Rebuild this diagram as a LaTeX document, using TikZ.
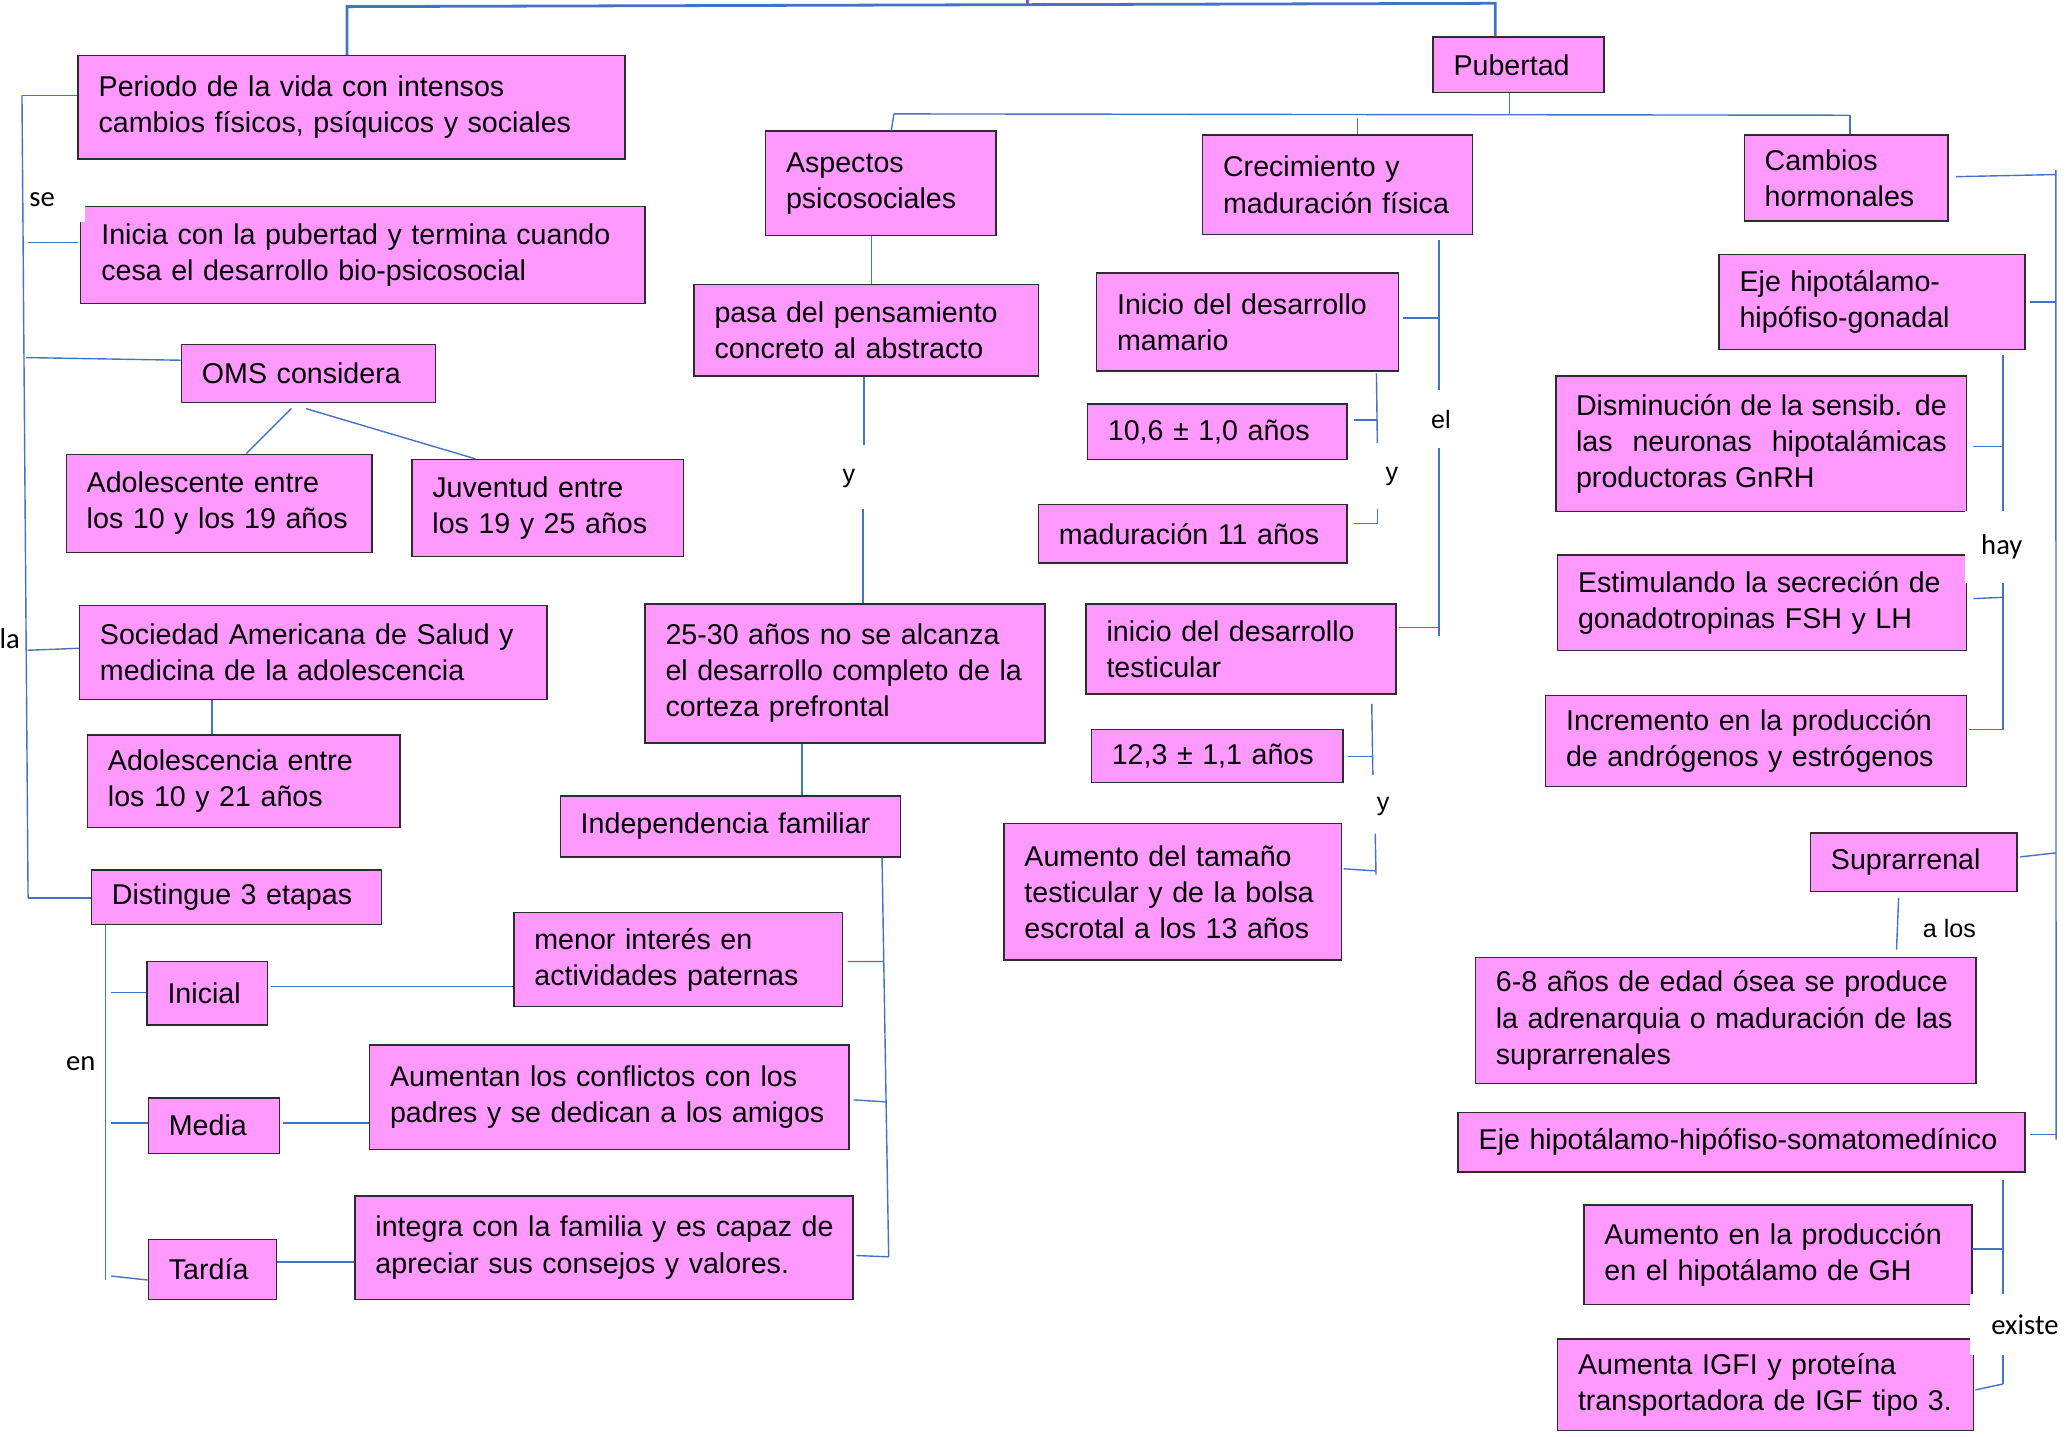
\documentclass[tikz,border=0pt]{standalone}
\usepackage{fontspec}
\setmainfont{Liberation Sans}
\newfontfamily\calfont{Carlito}
\definecolor{boxfill}{RGB}{255,153,255}
\definecolor{boxline}{RGB}{45,45,45}
\definecolor{linkblue}{RGB}{68,114,196}
\tikzset{
 box/.style={draw=boxline, fill=boxfill, line width=0.6pt, inner xsep=0.31cm, inner ysep=0pt, align=left, font=\fontsize{12.3}{15.5}\selectfont},
 conn/.style={draw=linkblue, line width=0.6pt},
 thickconn/.style={draw=linkblue, line width=1.2pt},
 lblA/.style={font=\fontsize{10.8}{13}\selectfont, inner sep=1pt},
 lblC/.style={font=\calfont\fontsize{12.3}{14}\selectfont, inner sep=1pt},
}
\newcommand\mkbox[6]{%
 \pgfmathsetmacro\bxw{(#4-#2)*0.02}%
 \pgfmathsetmacro\bxh{(#5-#3)*0.02}%
 \pgfmathsetmacro\bxt{(#4-#2-31)*0.02}%
 \node[box, minimum width=\bxw cm, minimum height=\bxh cm, text width=\bxt cm] (#1) at ({(#2+#4)/2},{(#3+#5)/2}) {#6};}
\begin{document}
\begin{tikzpicture}[x=0.02cm,y=-0.02cm]
\useasboundingbox (0,0) rectangle (1563,1085);
% ---------- boxes: left column
\mkbox{periodo}{59}{42}{472}{120}{\mbox{Periodo de la vida con intensos}\\\mbox{cambios físicos, psíquicos y sociales}}
\mkbox{inicia}{61}{156}{487}{229}{\mbox{Inicia con la pubertad y termina cuando}\\\mbox{cesa el desarrollo bio-psicosocial}}
\mkbox{oms}{137}{260}{329}{304}{\mbox{OMS considera}}
\mkbox{adol}{50}{343}{281}{417}{\mbox{Adolescente entre}\\\mbox{los 10 y los 19 años}}
\mkbox{juv}{311}{347}{516}{420}{\mbox{Juventud entre}\\\mbox{los 19 y 25 años}}
\mkbox{soc}{60}{457}{413}{528}{\mbox{Sociedad Americana de Salud y}\\\mbox{medicina de la adolescencia}}
\mkbox{adolc}{66}{555}{302}{625}{\mbox{Adolescencia entre}\\\mbox{los 10 y 21 años}}
\mkbox{dist}{69}{657}{288}{698}{\mbox{Distingue 3 etapas}}
\mkbox{inicial}{111}{726}{202}{774}{\mbox{Inicial}}
\mkbox{media}{112}{829}{211}{871}{\mbox{Media}}
\mkbox{tardia}{112}{936}{209}{981}{\mbox{Tardía}}
\mkbox{menor}{388}{689}{636}{760}{\mbox{menor interés en}\\\mbox{actividades paternas}}
\mkbox{aument}{279}{789}{641}{868}{\mbox{Aumentan los conflictos con los}\\\mbox{padres y se dedican a los amigos}}
\mkbox{integra}{268}{903}{644}{981}{\mbox{integra con la familia y es capaz de}\\\mbox{apreciar sus consejos y valores.}}
% ---------- middle column
\mkbox{aspectos}{578}{99}{752}{178}{\mbox{Aspectos}\\\mbox{psicosociales}}
\mkbox{pasa}{524}{215}{784}{284}{\mbox{pasa del pensamiento}\\\mbox{concreto al abstracto}}
\mkbox{corteza}{487}{456}{789}{561}{\mbox{25-30 años no se alcanza}\\\mbox{el desarrollo completo de la}\\\mbox{corteza prefrontal}}
\mkbox{indep}{423}{601}{680}{647}{\mbox{Independencia familiar}}
\mkbox{pubertad}{1082}{28}{1211}{70}{\mbox{Pubertad}}
\mkbox{crec}{908}{102}{1112}{177}{\mbox{Crecimiento y}\\\mbox{maduración física}}
\mkbox{mamario}{828}{206}{1056}{280}{\mbox{Inicio del desarrollo}\\\mbox{mamario}}
\mkbox{diez}{821}{305}{1017}{347}{\mbox{10,6 ± 1,0 años}}
\mkbox{madur}{784}{381}{1017}{425}{\mbox{maduración 11 años}}
\mkbox{testic}{820}{456}{1054}{524}{\mbox{inicio del desarrollo}\\\mbox{testicular}}
\mkbox{doce}{824}{551}{1014}{591}{\mbox{12,3 ± 1,1 años}}
\mkbox{tamano}{758}{622}{1013}{725}{\mbox{Aumento del tamaño}\\\mbox{testicular y de la bolsa}\\\mbox{escrotal a los 13 años}}
% ---------- right column
\mkbox{cambios}{1317}{102}{1471}{167}{\mbox{Cambios}\\\mbox{hormonales}}
\mkbox{gonadal}{1298}{192}{1529}{264}{\mbox{Eje hipotálamo-}\\\mbox{hipófiso-gonadal}}
\node[box, align=justify, inner xsep=0.3cm, minimum width=6.2cm, minimum height=2.04cm, text width=5.6cm] (dismin) at (1330,335) {Disminución de la sensib. de\linebreak las neuronas hipotalámicas\linebreak productoras GnRH};
\mkbox{estim}{1176}{419}{1485}{491}{\mbox{Estimulando la secreción de}\\\mbox{gonadotropinas FSH y LH}}
\mkbox{increm}{1167}{525}{1485}{594}{\mbox{Incremento en la producción}\\\mbox{de andrógenos y estrógenos}}
\mkbox{supra}{1367}{629}{1523}{673}{\mbox{Suprarrenal}}
\mkbox{seis}{1114}{723}{1492}{818}{\mbox{6-8 años de edad ósea se produce}\\\mbox{la adrenarquia o maduración de las}\\\mbox{suprarrenales}}
\mkbox{somato}{1101}{840}{1529}{885}{\mbox{Eje hipotálamo-hipófiso-somatomedínico}}
\mkbox{gh}{1196}{910}{1489}{985}{\mbox{Aumento en la producción}\\\mbox{en el hipotálamo de GH}}
\mkbox{igfi}{1176}{1011}{1490}{1080}{\mbox{Aumenta IGFI y proteína}\\\mbox{transportadora de IGF tipo 3.}}
% label drawn under the lines
\node[lblC, fill=white, minimum width=1.3cm, minimum height=0.68cm] (lse) at (31.8,150.5) {se};
% ---------- connectors
% top
\coordinate (tl) at (262,5);
\coordinate (tr) at (1129,2.5);
\coordinate (tt) at (776,0);
\draw[thickconn] (tl |- periodo.north) -- (tl) -- (tr) -- (tr |- pubertad.north);
\draw[thickconn] (tt) -- (776,4.5);
% pubertad bus
\coordinate (pb) at (1140,86);
\coordinate (bl) at (675,86);
\coordinate (br) at (1397,87);
\coordinate (asp) at (673,0);
\coordinate (ct) at (1025,89);
\draw[conn] (pb |- pubertad.south) -- (pb);
\draw[conn] (bl) -- (br);
\draw[conn] (bl) -- (asp |- aspectos.north);
\draw[conn] (br) -- (br |- cambios.north);
\draw[conn] (ct) -- (ct |- crec.north);
% aspectos column
\coordinate (ap) at (658,0);
\draw[conn] (ap |- aspectos.south) -- (ap |- pasa.north);
\coordinate (py) at (652.5,336);
\coordinate (py2) at (651.5,384);
\draw[conn] (py |- pasa.south) -- (py);
\draw[conn] (py2) -- (py2 |- corteza.north);
\node[lblA] (ly1) at (641,361) {y};
\coordinate (ci) at (605.5,0);
\draw[conn] (ci |- corteza.south) -- (ci |- indep.north);
\coordinate (is) at (666,0);
\coordinate (isb) at (671,949);
\draw[conn] (is |- indep.south) -- (isb);
\draw[conn] ([xshift=0.07cm,yshift=-0.03cm]menor.east) -- (667.3,726);
\draw[conn] ([xshift=0.06cm,yshift=-0.04cm]aument.east) -- (669.1,832);
\draw[conn] ([xshift=0.04cm,yshift=-0.12cm]integra.east) -- (isb);
% left spine
\coordinate (ls1) at (16.6,72);
\coordinate (ls2) at (21.2,678);
\draw[conn] (ls1) -- (ls2);
\draw[conn] (ls1) -- (ls1 -| periodo.west);
\coordinate (s2) at (21.4,183);
\draw[conn] (s2) -- ([xshift=-0.03cm]s2 -| inicia.west);
\coordinate (s3) at (19.8,270);
\draw[conn] (s3) -- ([yshift=-0.04cm]s3 -| oms.west);
\coordinate (s4) at (20.8,491);
\draw[conn] (s4) -- ([yshift=0.03cm]s4 -| soc.west);
\draw[conn] (ls2) -- (ls2 -| dist.west);
\node[lblC] (lla) at (7.4,482.6) {la};
% OMS
\draw[conn] ([xshift=-0.26cm,yshift=-0.08cm]oms.south) -- ([xshift=0.41cm]adol.north);
\draw[conn] ([xshift=-0.04cm,yshift=-0.08cm]oms.south) -- ([xshift=-1.09cm]juv.north);
\coordinate (sa) at (160,0);
\draw[conn] (sa |- soc.south) -- (sa |- adolc.north);
% distingue
\coordinate (d1) at (79.7,0);
\coordinate (d2) at (79.7,966.5);
\draw[conn] (d1 |- dist.south) -- (d2);
\coordinate (e1) at (84,749.5);
\coordinate (e2) at (84,848);
\coordinate (e3) at (84,963.5);
\draw[conn] (e1) -- (e1 -| inicial.west);
\draw[conn] (e2) -- (e2 -| media.west);
\draw[conn] (e3) -- ([yshift=-0.16cm]tardia.west);
\node[lblC] (len) at (61,803) {en};
\coordinate (im) at (0,745);
\coordinate (ma) at (0,848);
\coordinate (ti) at (0,953);
\draw[conn] ([xshift=0.04cm]inicial.east |- im) -- (menor.west |- im);
\draw[conn] ([xshift=0.04cm]media.east |- ma) -- (aument.west |- ma);
\draw[conn] (tardia.east |- ti) -- (integra.west |- ti);
% crecimiento
\coordinate (c1) at (1086.5,181);
\coordinate (c2) at (1086.5,294.5);
\coordinate (c3) at (1086.5,338);
\coordinate (c4) at (1086.5,480);
\draw[conn] (c1) -- (c2);
\draw[conn] (c3) -- (c4);
\node[lblA] (lel) at (1088,317) {el};
\draw[conn] ([xshift=0.06cm,yshift=0.06cm]mamario.east) -- ([yshift=0.06cm]mamario.east -| c1);
\coordinate (t1) at (1056,474);
\draw[conn] (t1) -- (t1 -| c1);
\coordinate (y1) at (1039.3,282);
\coordinate (y2) at (1040,334.5);
\coordinate (y3) at (1022,317);
\draw[conn] (y1) -- (y2);
\draw[conn] (y3) -- (y3 -| y2);
\coordinate (y4) at (1040,384);
\coordinate (y5) at (1040,395.3);
\draw[conn] (y4) -- (y5) -- ([xshift=0.1cm]madur.east |- y5);
\node[lblA] (ly2) at (1051,360) {y};
\coordinate (z1) at (1035.8,531.5);
\coordinate (z2) at (1036.6,585);
\draw[conn] (z1) -- (z2);
\draw[conn] ([xshift=0.06cm]doce.east) -- (doce.east -| z2);
\node[lblA] (ly3) at (1044.4,609) {y};
\coordinate (z3) at (1038.4,629.4);
\coordinate (z4) at (1039,660.4);
\coordinate (z5) at (1014.5,656);
\draw[conn] (z3) -- (z4);
\draw[conn] (z5) -- (1039,657.6);
% right spine
\coordinate (r1) at (1552.3,128.4);
\coordinate (r2) at (1552.5,860.5);
\draw[conn] (r1) -- (r2);
\coordinate (rc) at (1477,133.4);
\draw[conn] (rc) -- (1552.3,131.8);
\draw[conn] ([xshift=0.06cm]gonadal.east) -- (gonadal.east -| r1);
\draw[conn] ([xshift=0.04cm,yshift=0.08cm]supra.east) -- ([yshift=0.14cm]supra.east -| r1);
\coordinate (rs) at (1533,856.6);
\draw[conn] (rs) -- (rs -| r2);
% hormonal sub-bracket
\coordinate (g1) at (1512.3,268);
\coordinate (g2) at (1512.3,551);
\draw[conn] (g1) -- (g2);
\draw[conn] ([xshift=0.08cm,yshift=-0.04cm]dismin.east) -- ([yshift=-0.04cm]dismin.east -| g1);
\draw[conn] ([xshift=0.09cm,yshift=0.06cm]estim.east) -- ([yshift=0.08cm]estim.east -| g1);
\draw[conn] (g2) -- ([xshift=0.02cm]g2 -| increm.east);
% suprarrenal
\coordinate (sp1) at (1433.6,678);
\coordinate (sp2) at (1432,717);
\draw[conn] (sp1) -- (sp2);
\node[lblA] (lalos) at (1472,701) {a los};
% somatomedinico bracket
\coordinate (h1) at (1512.3,891);
\coordinate (h2) at (1512.3,1045);
\draw[conn] (h1) -- (h2);
\coordinate (hg) at (1489,943);
\draw[conn] (hg) -- (hg -| h1);
\draw[conn] ([xshift=0.02cm,yshift=-0.08cm]igfi.east) -- (h2);
% labels with white background over the lines
\node[lblC, fill=white, minimum width=1.1cm, minimum height=1.08cm] (lhay) at (1511.5,413) {hay};
\node[lblC, fill=white, minimum width=1.66cm, minimum height=0.92cm] (lexiste) at (1529,1000) {existe};
\end{tikzpicture}
\end{document}
